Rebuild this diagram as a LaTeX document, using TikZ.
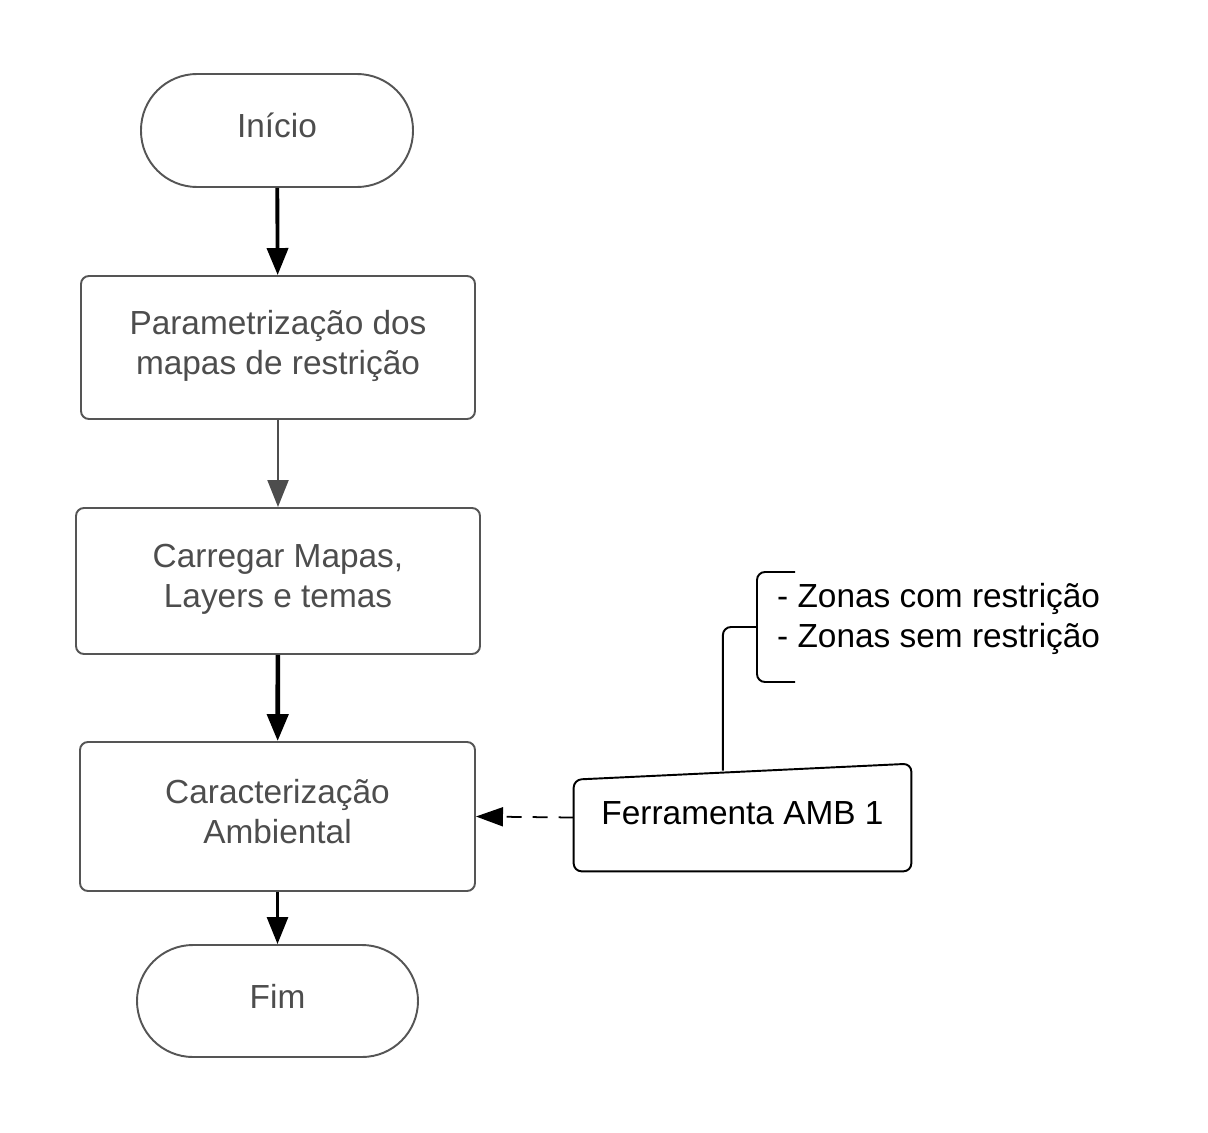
\documentclass[tikz,border=0pt]{standalone}
\usepackage{fontspec}
\setmainfont{Liberation Sans}
\usepackage{xcolor}
\usetikzlibrary{arrows.meta,calc}
\definecolor{boxgray}{HTML}{555555}
\definecolor{txtgray}{HTML}{4D4D4D}
\tikzset{
  termbox/.style={draw=boxgray,line width=1.1pt,rounded corners=1.12cm,text=txtgray,
    font=\fontsize{19}{22.7}\selectfont,align=center,text depth=0.2cm},
  procbox/.style={draw=boxgray,line width=1.1pt,rounded corners=0.16cm,text=txtgray,
    font=\fontsize{19}{22.7}\selectfont,align=center,text depth=0.2cm},
  flowtip/.style={-{Triangle[length=0.54cm,width=0.42cm]}}
}
\begin{document}
\begin{tikzpicture}
\useasboundingbox (0,0) rectangle (24.16,-22.66);

\node[termbox,minimum width=5.44cm,minimum height=2.26cm] (inicio) at (5.54,-2.61) {Início};

\node[procbox,minimum width=7.88cm,minimum height=2.86cm] (param) at (5.56,-6.95)
  {Parametrização dos\\mapas de restrição};

\node[procbox,minimum width=8.08cm,minimum height=2.92cm] (carregar) at (5.56,-11.62)
  {Carregar Mapas,\\Layers e temas};

\node[procbox,minimum width=7.9cm,minimum height=2.98cm,text depth=0.22cm] (caract) at (5.55,-16.33)
  {Caracterização\\Ambiental};

\node[termbox,minimum width=5.62cm,minimum height=2.24cm] (fim) at (5.55,-20.02) {Fim};

% ferramenta (entrada manual)
\node[minimum width=6.74cm,minimum height=2.14cm,font=\fontsize{19}{22.7}\selectfont,
  text=black,text depth=0.18cm] (ferr) at (14.85,-16.35) {Ferramenta AMB 1};
\draw[line width=1.1pt,rounded corners=0.16cm] (ferr.south west) -- (ferr.south east)
  -- (ferr.north east) -- ($(ferr.north west)+(0,-0.32)$) -- cycle;

% anotacao
\coordinate (anot) at ($(ferr.north west)!0.442!(ferr.north east)+(0,-0.14)$);
\draw[line width=1.1pt,rounded corners=0.16cm] (anot) |- (15.14,-12.54);
\draw[line width=1.1pt,rounded corners=0.16cm] (15.9,-11.44) -| (15.14,-13.64) -- (15.9,-13.64);
\node[anchor=west,align=left,font=\fontsize{19}{22.7}\selectfont] (zonas) at (15.42,-12.38)
  {- Zonas com restrição\\- Zonas sem restrição};

\draw[flowtip,line width=2.2pt] (inicio) -- (param);
\draw[flowtip,line width=1.2pt,draw=txtgray,fill=txtgray] (param) -- (carregar);
\draw[flowtip,line width=2.6pt] (carregar) -- (caract);
\draw[flowtip,line width=1.6pt] (caract) -- (fim);
\draw[-{Triangle[length=0.54cm,width=0.38cm]},line width=1pt,dash pattern=on 0.3cm off 0.22cm]
  (ferr.west) -- (caract.east);

\end{tikzpicture}
\end{document}
